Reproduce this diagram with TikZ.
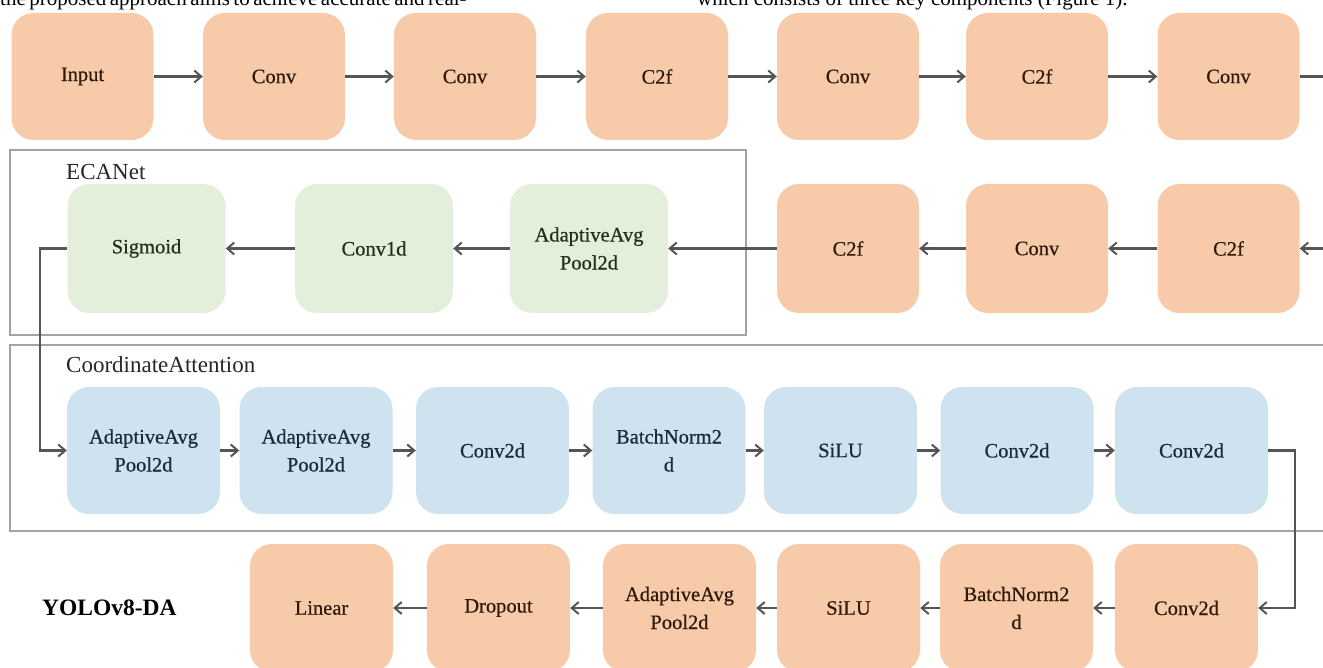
\documentclass[tikz,border=0pt]{standalone}
\usepackage{fontspec}
\setmainfont{Liberation Serif}
\newfontfamily\blockfont[FakeBold=0.6]{Liberation Serif}
\usetikzlibrary{arrows.meta}

\definecolor{orangefill}{HTML}{F7CBAA}
\definecolor{greenfill}{HTML}{E3EFDA}
\definecolor{bluefill}{HTML}{CFE2F0}
\definecolor{orangetext}{HTML}{301A0C}
\definecolor{greentext}{HTML}{22301E}
\definecolor{bluetext}{HTML}{1C2A3A}
\definecolor{linkgray}{HTML}{555555}
\definecolor{framegray}{HTML}{A3A3A3}

\tikzset{
  block/.style={rectangle, rounded corners=22pt, draw=none, align=center,
    inner sep=2pt, font=\blockfont\fontsize{20.5}{28}\selectfont},
  orangeblock/.style={block, fill=orangefill, text=orangetext},
  greenblock/.style={block, fill=greenfill, text=greentext},
  blueblock/.style={block, fill=bluefill, text=bluetext},
  link/.style={draw=linkgray, line width=2.4pt,
    -{Straight Barb[length=7pt,width=12pt,line width=2pt]}},
  plainlink/.style={draw=linkgray, line width=2.4pt},
  groupframe/.style={draw=framegray, line width=1.5pt},
  grouplabel/.style={anchor=west, inner sep=0pt, text=black!85,
    font=\fontsize{23}{26}\selectfont},
  pagetext/.style={anchor=base west, inner sep=0pt, text=black,
    font=\fontsize{21}{24}\selectfont}
}

\begin{document}
\begin{tikzpicture}[x=1pt, y=-1pt]
  \useasboundingbox (0,0) rectangle (1323,668);
  \clip (0,0) rectangle (1323,668);

  % running text of the surrounding page, cut at the top edge
  \node[pagetext] (ptl) at (0,6) {\makebox[442pt][s]{the proposed approach aims to achieve accurate and real-}};
  \node[pagetext] (ptr) at (697,6) {which consists of three key components (Figure 1).};

  % group frames
  \draw[groupframe] (10,150) rectangle (746,335);
  \draw[groupframe] (10,345) rectangle (1340,531);
  \node[grouplabel] (ecalabel) at (66,172) {ECANet};
  \node[grouplabel] (calabel) at (66,365) {CoordinateAttention};

  % row 1: backbone, left to right
  \begin{scope}[every node/.append style={orangeblock, minimum width=142pt, minimum height=127pt}]
    \node (r1a) at (82.5,76.5) {Input};
    \node (r1b) at (274,76.5) {Conv};
    \node (r1c) at (465,76.5) {Conv};
    \node (r1d) at (657,76.5) {C2f};
    \node (r1e) at (848,76.5) {Conv};
    \node (r1f) at (1037,76.5) {C2f};
    \node (r1g) at (1228.5,76.5) {Conv};
  \end{scope}
  \coordinate (r1out) at (1330,76.5);

  % row 2: backbone continued, right to left, then ECANet
  \begin{scope}[every node/.append style={orangeblock, minimum width=142pt, minimum height=129pt}]
    \node (r2a) at (1228.5,248.5) {C2f};
    \node (r2b) at (1037,248.5) {Conv};
    \node (r2c) at (848,248.5) {C2f};
  \end{scope}
  \begin{scope}[every node/.append style={greenblock, minimum width=158pt, minimum height=129pt}]
    \node (eca1) at (589,248.5) {AdaptiveAvg\\Pool2d};
    \node (eca2) at (374,248.5) {Conv1d};
    \node (eca3) at (146.5,248.5) {Sigmoid};
  \end{scope}
  \coordinate (r2in) at (1330,248.5);

  % row 3: coordinate attention, left to right
  \begin{scope}[every node/.append style={blueblock, minimum width=153pt, minimum height=127pt}]
    \node (ca1) at (143.5,450.5) {AdaptiveAvg\\Pool2d};
    \node (ca2) at (316,450.5) {AdaptiveAvg\\Pool2d};
    \node (ca3) at (492.5,450.5) {Conv2d};
    \node (ca4) at (669,450.5) {BatchNorm2\\d};
    \node (ca5) at (840.5,450.5) {SiLU};
    \node (ca6) at (1017,450.5) {Conv2d};
    \node (ca7) at (1191.5,450.5) {Conv2d};
  \end{scope}

  % row 4: head, right to left
  \begin{scope}[every node/.append style={orangeblock, minimum height=128pt}]
    \node[minimum width=143pt] (h1) at (1186.5,608) {Conv2d};
    \node[minimum width=153pt] (h2) at (1016.5,608) {BatchNorm2\\d};
    \node[minimum width=143pt] (h3) at (848.5,608) {SiLU};
    \node[minimum width=153pt] (h4) at (679.5,608) {AdaptiveAvg\\Pool2d};
    \node[minimum width=143pt] (h5) at (498.5,608) {Dropout};
    \node[minimum width=143pt] (h6) at (321.5,608) {Linear};
  \end{scope}
  \node[anchor=west, inner sep=0pt, font=\fontsize{23.5}{26}\selectfont\bfseries] (model) at (42,608) {YOLOv8-DA};

  % connectors
  \draw[link] (r1a) -- (r1b);
  \draw[link] (r1b) -- (r1c);
  \draw[link] (r1c) -- (r1d);
  \draw[link] (r1d) -- (r1e);
  \draw[link] (r1e) -- (r1f);
  \draw[link] (r1f) -- (r1g);
  \draw[plainlink] (r1g) -- (r1out);

  \draw[link] (r2in) -- (r2a);
  \draw[link] (r2a) -- (r2b);
  \draw[link] (r2b) -- (r2c);
  \draw[link] (r2c) -- (eca1);
  \draw[link] (eca1) -- (eca2);
  \draw[link] (eca2) -- (eca3);

  \coordinate (bendL) at (40,248.5);
  \draw[link] (eca3.west) -- (bendL) |- (ca1.west);

  \draw[link] (ca1) -- (ca2);
  \draw[link] (ca2) -- (ca3);
  \draw[link] (ca3) -- (ca4);
  \draw[link] (ca4) -- (ca5);
  \draw[link] (ca5) -- (ca6);
  \draw[link] (ca6) -- (ca7);

  \coordinate (bendR) at (1295,450.5);
  \draw[link] (ca7.east) -- (bendR) |- (h1.east);

  \draw[link] (h1) -- (h2);
  \draw[link] (h2) -- (h3);
  \draw[link] (h3) -- (h4);
  \draw[link] (h4) -- (h5);
  \draw[link] (h5) -- (h6);
\end{tikzpicture}
\end{document}
